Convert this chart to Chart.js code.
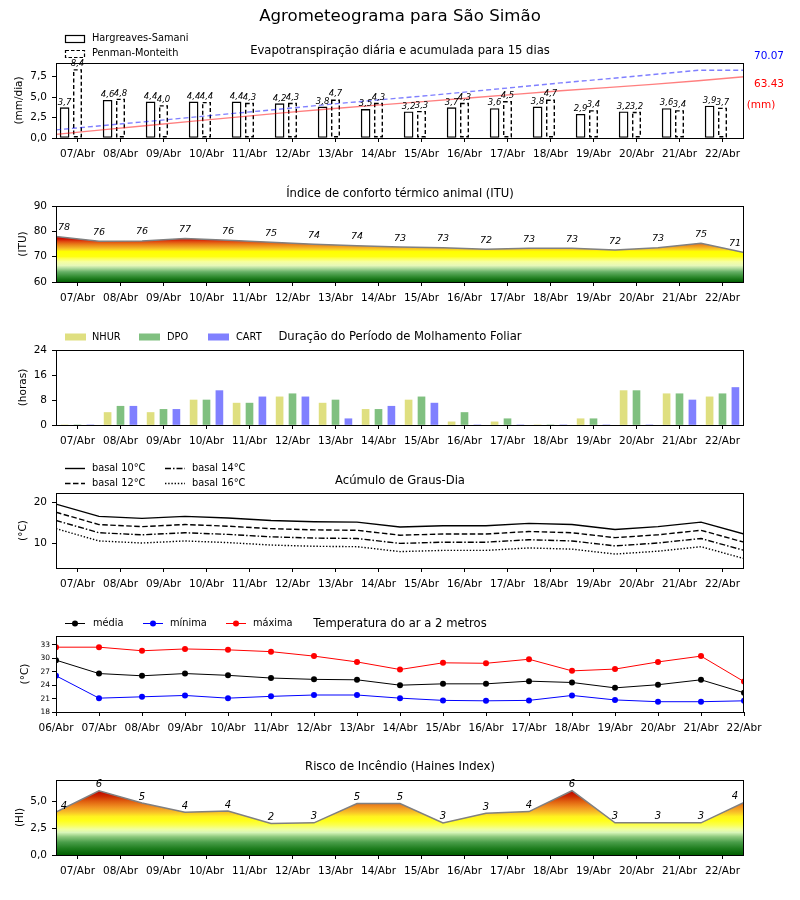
<!DOCTYPE html>
<html>
<head>
<meta charset="utf-8">
<script src="https://cdn.jsdelivr.net/npm/chart.js@4.4.0/dist/chart.umd.min.js"></script>
<style>
  body { margin: 0; background: #fff; }
  #quadro { position: relative; width: 800px; height: 900px; }
  canvas { position: absolute; left: 0; }
</style>
</head>
<body>
<div id="quadro">
  <canvas id="c1" width="800" height="168" style="top:0px"></canvas>
  <canvas id="c2" width="800" height="144" style="top:168px"></canvas>
  <canvas id="c3" width="800" height="143" style="top:312px"></canvas>
  <canvas id="c4" width="800" height="143" style="top:455px"></canvas>
  <canvas id="c5" width="800" height="144" style="top:598px"></canvas>
  <canvas id="c6" width="800" height="158" style="top:742px"></canvas>
</div>
<script>
// datas
const dias = ['07/Abr', '08/Abr', '09/Abr', '10/Abr', '11/Abr', '12/Abr', '13/Abr', '14/Abr',
              '15/Abr', '16/Abr', '17/Abr', '18/Abr', '19/Abr', '20/Abr', '21/Abr', '22/Abr'];
const diasTemp = ['06/Abr', '07/Abr', '08/Abr', '09/Abr', '10/Abr', '11/Abr', '12/Abr', '13/Abr', '14/Abr',
                  '15/Abr', '16/Abr', '17/Abr', '18/Abr', '19/Abr', '20/Abr', '21/Abr', '22/Abr'];

// evapotranspiracao (mm/dia) e acumulado (mm)
const etHS = [3.7, 4.6, 4.4, 4.4, 4.4, 4.2, 3.8, 3.5, 3.2, 3.7, 3.6, 3.8, 2.9, 3.2, 3.6, 3.9];
const etPM = [8.4, 4.8, 4.0, 4.4, 4.3, 4.3, 4.7, 4.3, 3.3, 4.3, 4.5, 4.7, 3.4, 3.2, 3.4, 3.7];
const etHSacum = [3.7, 8.4, 13.0, 17.5, 21.9, 26.2, 30.2, 34.0, 37.6, 41.4, 45.1, 48.9, 52.1, 55.5, 59.3, 63.43];
const etPMacum = [8.4, 12.8, 17.1, 21.6, 26.0, 30.4, 35.0, 39.3, 43.4, 47.9, 52.4, 57.0, 61.2, 65.6, 70.07, 70.07];
const totalHS = '63.43';
const totalPM = '70.07';

// ITU
const itu = [78.0, 76.1, 76.2, 77.2, 76.5, 75.7, 74.9, 74.3, 73.8, 73.5, 72.9, 73.3, 73.3, 72.6, 73.5, 75.3, 71.6];
const ituRotulos = ['78', '76', '76', '77', '76', '75', '74', '74', '73', '73', '72', '73', '73', '72', '73', '75', '71'];

// molhamento foliar (horas)
const molhNHUR = [0, 4, 4, 8, 7, 9, 7, 5, 8, 1, 1, 0, 2, 11, 10, 9];
const molhDPO  = [0, 6, 5, 8, 7, 10, 8, 5, 9, 4, 2, 0, 2, 11, 10, 10];
const molhCART = [0, 6, 5, 11, 9, 9, 2, 6, 7, 0, 0, 0, 0, 0, 8, 12];

// graus-dia
const gd10 = [19.6, 16.6, 16.1, 16.6, 16.2, 15.6, 15.3, 15.2, 14.0, 14.3, 14.3, 14.9, 14.6, 13.4, 14.1, 15.2, 12.3];
const gd12 = [17.6, 14.6, 14.1, 14.6, 14.2, 13.6, 13.3, 13.2, 12.0, 12.3, 12.3, 12.9, 12.6, 11.4, 12.1, 13.2, 10.3];
const gd14 = [15.6, 12.6, 12.1, 12.6, 12.2, 11.6, 11.3, 11.2, 10.0, 10.3, 10.3, 10.9, 10.6, 9.4, 10.1, 11.2, 8.3];
const gd16 = [13.6, 10.6, 10.1, 10.6, 10.2, 9.6, 9.3, 9.2, 8.0, 8.3, 8.3, 8.9, 8.6, 7.4, 8.1, 9.2, 6.3];

// temperatura do ar (°C)
const tMedia = [29.6, 26.6, 26.1, 26.6, 26.2, 25.6, 25.3, 25.2, 24.0, 24.3, 24.3, 24.9, 24.6, 23.4, 24.1, 25.2, 22.3];
const tMin   = [26.1, 21.1, 21.4, 21.7, 21.1, 21.5, 21.8, 21.8, 21.1, 20.6, 20.5, 20.6, 21.7, 20.7, 20.3, 20.3, 20.5];
const tMax   = [32.5, 32.5, 31.7, 32.1, 31.9, 31.5, 30.5, 29.2, 27.5, 29.0, 28.9, 29.8, 27.2, 27.6, 29.2, 30.5, 24.8];

// haines
const haines = [4.0, 6.0, 4.85, 4.0, 4.1, 2.95, 3.0, 4.8, 4.8, 3.0, 3.9, 4.05, 6.0, 3.0, 3.0, 3.0, 4.9];
const hainesRotulos = ['4', '6', '5', '4', '4', '2', '3', '5', '5', '3', '3', '4', '6', '3', '3', '3', '4'];

// ticks
const ticksET = [0, 2.5, 5, 7.5];
const ticksITU = [60, 70, 80, 90];
const ticksMolh = [0, 8, 16, 24];
const ticksGD = [10, 20];
const ticksTemp = [18, 21, 24, 27, 30, 33];
const ticksHI = [0, 2.5, 5];

const FONTE = "'DejaVu Sans', sans-serif";
const LEGENDA = '9.8px ' + FONTE;
Chart.defaults.font.family = FONTE;
Chart.defaults.color = '#000';
Chart.defaults.plugins.legend.display = false;
Chart.defaults.plugins.tooltip.enabled = false;

const virgula = v => v.toFixed(1).replace('.', ',');
const pontos = (valores, inicio, passo = 1) => valores.map((v, i) => ({ x: inicio + i * passo, y: v }));

function eixoX(rotulos, min, max) {
  return {
    type: 'linear', min, max, offset: false,
    afterBuildTicks: ax => { ax.ticks = rotulos.map((_, i) => ({ value: i })); },
    afterFit: ax => { ax.height = ax.chart.canvas.id === 'c6' ? 45 : 30; },
    ticks: { callback: v => rotulos[v], font: { size: 10.5 }, padding: 6, maxRotation: 0, autoSkip: false, color: '#000' },
    grid: { drawOnChartArea: false, tickLength: 4, color: '#000', offset: false },
    border: { display: false }
  };
}

function eixoY(min, max, valores, fmt, tam = 10.5, pad = 5) {
  return {
    type: 'linear', min, max,
    afterBuildTicks: ax => { ax.ticks = valores.map(v => ({ value: v })); },
    afterFit: ax => { ax.width = 56; },
    ticks: { callback: fmt, font: { size: tam }, padding: pad, color: '#000' },
    grid: { drawOnChartArea: false, tickLength: 4, color: '#000' },
    border: { display: false }
  };
}

function opcoes(topo, escalas) {
  return {
    responsive: false, animation: false, devicePixelRatio: 1, events: [],
    layout: { padding: { top: topo, right: 56, left: 0, bottom: 0 } },
    scales: escalas
  };
}

// moldura, titulo e rotulo do eixo y
function moldura(titulo, tituloY, rotuloY, rotuloX, extra) {
  return {
    id: 'moldura',
    afterDraw(chart) {
      const ctx = chart.ctx, a = chart.chartArea;
      ctx.save();
      ctx.strokeStyle = '#000';
      ctx.lineWidth = 1;
      ctx.setLineDash([]);
      ctx.strokeRect(a.left + 0.5, a.top + 0.5, a.right - a.left - 1, a.bottom - a.top);
      ctx.fillStyle = '#000';
      ctx.textAlign = 'center';
      ctx.textBaseline = 'middle';
      ctx.font = '11.6px ' + FONTE;
      ctx.fillText(titulo, 400, tituloY);
      ctx.save();
      ctx.translate(rotuloX, (a.top + a.bottom) / 2);
      ctx.rotate(-Math.PI / 2);
      ctx.font = '10.5px ' + FONTE;
      ctx.fillText(rotuloY, 0, 0);
      ctx.restore();
      if (extra) extra(ctx, chart);
      ctx.restore();
    }
  };
}

function gradiente(paradas) {
  return context => {
    const chart = context.chart;
    if (!chart.chartArea) return 'rgba(0,0,0,0)';
    const y = chart.scales.y;
    const v0 = paradas[0][0], v1 = paradas[paradas.length - 1][0];
    const g = chart.ctx.createLinearGradient(0, y.getPixelForValue(v0), 0, y.getPixelForValue(v1));
    paradas.forEach(([v, c]) => g.addColorStop((v - v0) / (v1 - v0), c));
    return g;
  };
}

function rotulosPontos(indice, textos, dy, fonte) {
  return {
    id: 'rotulos',
    afterDatasetsDraw(chart) {
      const ctx = chart.ctx, meta = chart.getDatasetMeta(indice);
      ctx.save();
      ctx.font = fonte;
      ctx.fillStyle = '#000';
      ctx.textBaseline = 'middle';
      ctx.textAlign = 'center';
      meta.data.forEach((el, i) => {
        let x = el.x;
        if (i === 0) x += 8;
        if (i === meta.data.length - 1) x -= 9;
        ctx.fillText(textos[i], x, el.y - dy);
      });
      ctx.restore();
    }
  };
}

function linhaLegenda(ctx, x, y, cor, tracejado, marcador) {
  ctx.save();
  ctx.strokeStyle = cor;
  ctx.lineWidth = marcador ? 1 : 1.4;
  ctx.setLineDash(tracejado || []);
  ctx.beginPath(); ctx.moveTo(x, y); ctx.lineTo(x + 20, y); ctx.stroke();
  if (marcador) {
    ctx.fillStyle = cor;
    ctx.beginPath(); ctx.arc(x + 10, y, 3, 0, Math.PI * 2); ctx.fill();
  }
  ctx.restore();
}

// 1) Evapotranspiracao
new Chart(document.getElementById('c1'), {
  type: 'line',
  data: {
    datasets: [
      { label: 'HS acumulada', data: pontos(etHSacum, -0.5, 16 / 15), yAxisID: 'y2',
        borderColor: 'rgba(255,0,0,0.5)', borderWidth: 1.4, pointRadius: 0, tension: 0, order: 0 },
      { label: 'PM acumulada', data: pontos(etPMacum, -0.5, 16 / 15), yAxisID: 'y2',
        borderColor: 'rgba(0,0,255,0.5)', borderDash: [5, 3], borderWidth: 1.4, pointRadius: 0, tension: 0, order: 0 },
      { type: 'bar', label: 'Hargreaves-Samani', data: pontos(etHS, -0.3), backgroundColor: '#fff',
        borderColor: '#000', borderWidth: 1.4, borderSkipped: false, barThickness: 9, grouped: false, order: 1 },
      { type: 'bar', label: 'Penman-Monteith', data: pontos(etPM, 0), backgroundColor: '#fff',
        borderWidth: 0, barThickness: 9, grouped: false, order: 1 }
    ]
  },
  options: opcoes(63, {
    x: eixoX(dias, -0.5, 15.5),
    y: eixoY(0, 9.15, ticksET, virgula),
    y2: { type: 'linear', display: false, min: 0, max: 77.6 }
  }),
  plugins: [
    {
      id: 'barrasTracejadas',
      afterDatasetDraw(chart, args) {
        if (args.index !== 3) return;
        const ctx = chart.ctx;
        ctx.save();
        ctx.strokeStyle = '#000';
        ctx.lineWidth = 1.4;
        ctx.setLineDash([4, 2.5]);
        args.meta.data.forEach(el => {
          ctx.strokeRect(el.x - el.width / 2 + 0.7, el.y + 0.7, el.width - 1.4, el.base - el.y - 1.4);
        });
        ctx.restore();
      },
      afterDatasetsDraw(chart) {
        const ctx = chart.ctx;
        ctx.save();
        ctx.font = 'italic 8.5px ' + FONTE;
        ctx.fillStyle = '#000';
        ctx.textAlign = 'center';
        ctx.textBaseline = 'bottom';
        [2, 3].forEach(d => {
          const valores = chart.data.datasets[d].data;
          chart.getDatasetMeta(d).data.forEach((el, i) => {
            ctx.fillText(virgula(valores[i].y), el.x, el.y - 1);
          });
        });
        ctx.restore();
      }
    },
    moldura('Evapotranspiração diária e acumulada para 15 dias', 51, '(mm/dia)', 19, ctx => {
      ctx.font = '16.6px ' + FONTE;
      ctx.fillText('Agrometeograma para São Simão', 400, 17);
      // legenda
      ctx.lineWidth = 1.2;
      ctx.strokeRect(65.5, 35.5, 19, 7);
      ctx.setLineDash([3.5, 2]);
      ctx.strokeRect(65.5, 50.5, 19, 7);
      ctx.setLineDash([]);
      ctx.font = LEGENDA;
      ctx.textAlign = 'left';
      ctx.fillText('Hargreaves-Samani', 92, 38.5);
      ctx.fillText('Penman-Monteith', 92, 53.5);
      // totais
      ctx.font = '10.5px ' + FONTE;
      ctx.textAlign = 'center';
      ctx.fillStyle = '#0000ff';
      ctx.fillText(totalPM, 769, 56.5);
      ctx.fillStyle = '#ff0000';
      ctx.fillText(totalHS, 769, 84);
      ctx.fillText('(mm)', 761, 105);
    })
  ]
});

// 2) ITU
const coresITU = [
  [60, '#005f00'], [62, '#2e8a2e'], [64, '#66b066'], [65.5, '#b4dea0'], [66.5, '#e6f8b8'],
  [68, '#f6ffa0'], [69.5, '#ffff40'], [70, '#ffff10'], [72, '#ffff00'], [73, '#f8c828'],
  [74, '#f0a020'], [75, '#e87818'], [76, '#e04810'], [77, '#d01000'], [78, '#c00000']
];
new Chart(document.getElementById('c2'), {
  type: 'line',
  data: {
    datasets: [
      { label: 'ITU', data: pontos(itu, -0.5), fill: 'start', backgroundColor: gradiente(coresITU),
        borderColor: '#808080', borderWidth: 1.5, pointRadius: 0, tension: 0 }
    ]
  },
  options: opcoes(38, {
    x: eixoX(dias, -0.5, 15.5),
    y: eixoY(60, 90, ticksITU, v => String(v))
  }),
  plugins: [
    rotulosPontos(0, ituRotulos, 9, 'italic 9.5px ' + FONTE),
    moldura('Índice de conforto térmico animal (ITU)', 26, '(ITU)', 23.5)
  ]
});

// 3) Molhamento foliar
new Chart(document.getElementById('c3'), {
  type: 'line',
  data: {
    datasets: [
      { type: 'bar', label: 'NHUR', data: pontos(molhNHUR, -0.3), backgroundColor: '#dfdf80',
        barThickness: 7, grouped: false },
      { type: 'bar', label: 'DPO', data: pontos(molhDPO, 0), backgroundColor: '#80c080',
        barThickness: 7, grouped: false },
      { type: 'bar', label: 'CART', data: pontos(molhCART, 0.3), backgroundColor: '#8080ff',
        barThickness: 7, grouped: false }
    ]
  },
  options: opcoes(38, {
    x: eixoX(dias, -0.5, 15.5),
    y: eixoY(0, 24, ticksMolh, v => String(v))
  }),
  plugins: [
    moldura('Duração do Período de Molhamento Foliar', 25, '(horas)', 23.5, ctx => {
      const itens = [['NHUR', '#dfdf80', 65, 92], ['DPO', '#80c080', 139, 167], ['CART', '#8080ff', 208, 236]];
      ctx.font = LEGENDA;
      ctx.textAlign = 'left';
      itens.forEach(([nome, cor, xq, xt]) => {
        ctx.fillStyle = cor;
        ctx.fillRect(xq, 21.5, 21, 7);
        ctx.fillStyle = '#000';
        ctx.fillText(nome, xt, 25);
      });
    })
  ]
});

// 4) Graus-dia
const estilosGD = [[], [5.5, 2.5], [6, 2, 1.5, 2], [1.4, 1.8]];
new Chart(document.getElementById('c4'), {
  type: 'line',
  data: {
    datasets: [gd10, gd12, gd14, gd16].map((serie, k) => ({
      label: 'basal ' + (10 + 2 * k) + '°C', data: pontos(serie, -0.5), borderColor: '#000',
      borderWidth: 1.4, borderDash: estilosGD[k], pointRadius: 0, tension: 0
    }))
  },
  options: opcoes(38, {
    x: eixoX(dias, -0.5, 15.5),
    y: eixoY(4.0, 22.3, ticksGD, v => String(v))
  }),
  plugins: [
    moldura('Acúmulo de Graus-Dia', 26, '(°C)', 23.5, ctx => {
      const pos = [[65, 13.5], [65, 28.5], [165, 13.5], [165, 28.5]];
      const nomes = ['basal 10°C', 'basal 12°C', 'basal 14°C', 'basal 16°C'];
      ctx.font = LEGENDA;
      ctx.textAlign = 'left';
      pos.forEach(([x, y], k) => {
        linhaLegenda(ctx, x, y, '#000', estilosGD[k]);
        ctx.fillStyle = '#000';
        ctx.fillText(nomes[k], x + 27, y);
      });
    })
  ]
});

// 5) Temperatura
const seriesTemp = [['média', tMedia, '#000000'], ['mínima', tMin, '#0000ff'], ['máxima', tMax, '#ff0000']];
new Chart(document.getElementById('c5'), {
  type: 'line',
  data: {
    datasets: seriesTemp.map(([nome, serie, cor]) => ({
      label: nome, data: pontos(serie, 0), borderColor: cor, backgroundColor: cor,
      borderWidth: 1, pointRadius: 3, pointBorderWidth: 0, tension: 0
    }))
  },
  options: opcoes(38, {
    x: eixoX(diasTemp, 0, 16),
    y: eixoY(18, 35, ticksTemp, v => String(v), 7.5, 2)
  }),
  plugins: [
    moldura('Temperatura do ar a 2 metros', 26, '(°C)', 25, ctx => {
      const xs = [[65, 93], [143, 170], [226, 253]];
      ctx.font = LEGENDA;
      ctx.textAlign = 'left';
      seriesTemp.forEach(([nome, , cor], k) => {
        linhaLegenda(ctx, xs[k][0], 25.5, cor, null, true);
        ctx.fillStyle = '#000';
        ctx.fillText(nome, xs[k][1], 25.5);
      });
    })
  ]
});

// 6) Haines
const coresHI = [
  [0, '#005f00'], [0.6, '#1e7d1e'], [1.2, '#4a9e4a'], [1.7, '#8cc87c'], [2.1, '#d8f5b8'],
  [2.4, '#f0ffa0'], [2.8, '#fbff50'], [3.2, '#ffff1a'], [3.6, '#fff020'], [4.0, '#f8c028'],
  [4.5, '#f09020'], [5.0, '#e06010'], [5.5, '#cc2800'], [6.0, '#c00000']
];
new Chart(document.getElementById('c6'), {
  type: 'line',
  data: {
    datasets: [
      { label: 'Haines', data: pontos(haines, -0.5), fill: 'start', backgroundColor: gradiente(coresHI),
        borderColor: '#808080', borderWidth: 1.5, pointRadius: 0, tension: 0 }
    ]
  },
  options: opcoes(38, {
    x: eixoX(dias, -0.5, 15.5),
    y: eixoY(0, 7, ticksHI, virgula)
  }),
  plugins: [
    rotulosPontos(0, hainesRotulos, 6, 'italic 10px ' + FONTE),
    moldura('Risco de Incêndio (Haines Index)', 25, '(HI)', 20)
  ]
});
</script>
</body>
</html>
